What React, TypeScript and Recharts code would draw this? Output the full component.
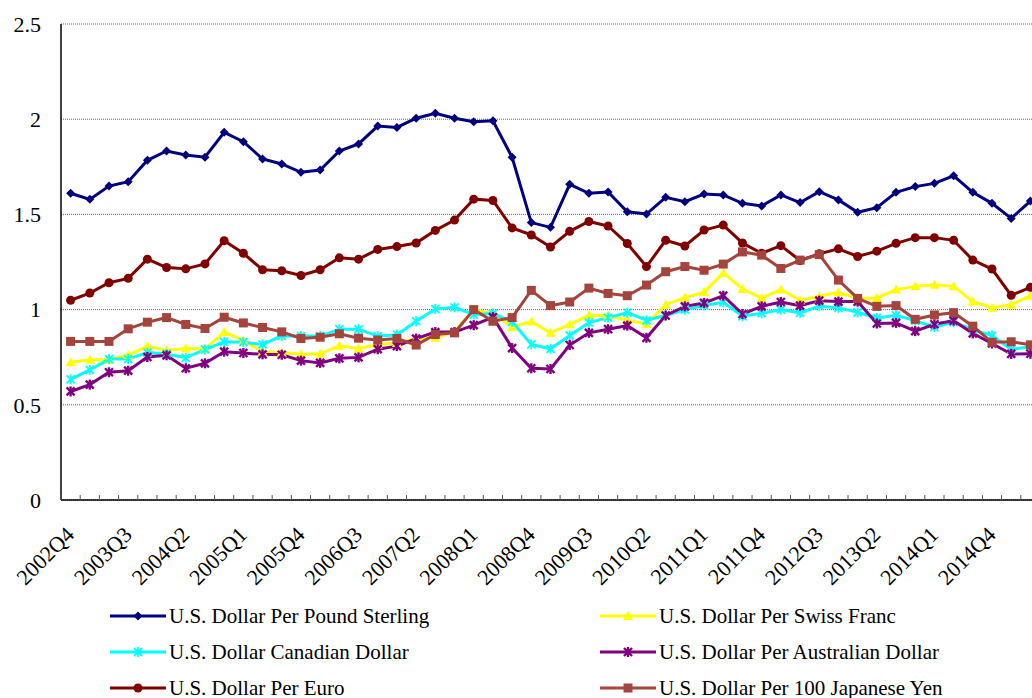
import { LineChart, Line, XAxis, YAxis, CartesianGrid } from "recharts";

const quarters = [
    "2002Q4",
    "2003Q1", "2003Q2", "2003Q3", "2003Q4",
    "2004Q1", "2004Q2", "2004Q3", "2004Q4",
    "2005Q1", "2005Q2", "2005Q3", "2005Q4",
    "2006Q1", "2006Q2", "2006Q3", "2006Q4",
    "2007Q1", "2007Q2", "2007Q3", "2007Q4",
    "2008Q1", "2008Q2", "2008Q3", "2008Q4",
    "2009Q1", "2009Q2", "2009Q3", "2009Q4",
    "2010Q1", "2010Q2", "2010Q3", "2010Q4",
    "2011Q1", "2011Q2", "2011Q3", "2011Q4",
    "2012Q1", "2012Q2", "2012Q3", "2012Q4",
    "2013Q1", "2013Q2", "2013Q3", "2013Q4",
    "2014Q1", "2014Q2", "2014Q3", "2014Q4",
    "2015Q1", "2015Q2",
];

const pound = [
    1.611, 1.579, 1.649, 1.672, 1.784, 1.833, 1.812, 1.8, 1.931, 1.882,
    1.791, 1.765, 1.721, 1.733, 1.833, 1.87, 1.964, 1.957, 2.005, 2.031,
    2.005, 1.987, 1.992, 1.8, 1.457, 1.432, 1.658, 1.611, 1.618, 1.514,
    1.502, 1.59, 1.567, 1.607, 1.602, 1.558, 1.544, 1.602, 1.562, 1.619,
    1.576, 1.511, 1.535, 1.616, 1.646, 1.663, 1.703, 1.616, 1.558, 1.479,
    1.57,
];
const swiss = [
    0.723, 0.737, 0.737, 0.761, 0.808, 0.786, 0.796, 0.793, 0.882, 0.838,
    0.779, 0.775, 0.765, 0.768, 0.81, 0.796, 0.817, 0.824, 0.848, 0.852,
    0.885, 1.0, 0.979, 0.909, 0.937, 0.878, 0.923, 0.97, 0.969, 0.944,
    0.925, 1.026, 1.063, 1.092, 1.193, 1.108, 1.061, 1.105, 1.049, 1.07,
    1.091, 1.058, 1.061, 1.105, 1.122, 1.131, 1.122, 1.042, 1.01, 1.026,
    1.073,
];
const canadian = [
    0.634, 0.683, 0.74, 0.74, 0.774, 0.767, 0.747, 0.791, 0.831, 0.829,
    0.817, 0.862, 0.861, 0.861, 0.897, 0.897, 0.861, 0.868, 0.939, 1.003,
    1.012, 0.974, 0.979, 0.936, 0.817, 0.794, 0.864, 0.932, 0.958, 0.984,
    0.944, 0.969, 1.0, 1.022, 1.038, 0.965, 0.981, 1.0, 0.983, 1.019,
    1.009, 0.986, 0.956, 0.97, 0.942, 0.908, 0.934, 0.895, 0.864, 0.791,
    0.805,
];
const australian = [
    0.57, 0.606, 0.671, 0.679, 0.751, 0.76, 0.692, 0.718, 0.779, 0.772,
    0.765, 0.763, 0.732, 0.72, 0.744, 0.749, 0.792, 0.808, 0.848, 0.882,
    0.882, 0.918, 0.96, 0.798, 0.692, 0.688, 0.814, 0.878, 0.897, 0.916,
    0.852, 0.969, 1.017, 1.035, 1.073, 0.977, 1.017, 1.04, 1.021, 1.047,
    1.042, 1.042, 0.927, 0.93, 0.887, 0.923, 0.942, 0.875, 0.822, 0.767,
    0.768,
];
const euro = [
    1.049, 1.087, 1.141, 1.164, 1.265, 1.221, 1.214, 1.24, 1.362, 1.296,
    1.209, 1.204, 1.179, 1.209, 1.272, 1.265, 1.316, 1.331, 1.35, 1.416,
    1.47, 1.58, 1.573, 1.429, 1.392, 1.329, 1.411, 1.463, 1.439, 1.347,
    1.226, 1.364, 1.334, 1.418, 1.444, 1.35, 1.296, 1.336, 1.258, 1.293,
    1.319, 1.279, 1.307, 1.348, 1.378, 1.378, 1.364, 1.26, 1.213, 1.075,
    1.117,
];
const yen = [
    0.833, 0.833, 0.833, 0.899, 0.934, 0.958, 0.922, 0.901, 0.96, 0.93,
    0.906, 0.883, 0.848, 0.855, 0.873, 0.85, 0.84, 0.848, 0.814, 0.869,
    0.878, 1.0, 0.939, 0.958, 1.101, 1.021, 1.04, 1.113, 1.085, 1.073,
    1.129, 1.199, 1.226, 1.207, 1.239, 1.303, 1.286, 1.216, 1.26, 1.289,
    1.155, 1.059, 1.017, 1.021, 0.949, 0.972, 0.984, 0.913, 0.828, 0.831,
    0.815,
];

const yTicks = [0, 0.5, 1, 1.5, 2, 2.5];
const labelEvery = 3;

const series = [
    { key: "pound", name: "U.S. Dollar Per Pound Sterling", color: "#000080", shape: "diamond", values: pound },
    { key: "swiss", name: "U.S. Dollar Per Swiss Franc", color: "#FFFF00", shape: "triangle", values: swiss },
    { key: "canadian", name: "U.S. Dollar Canadian Dollar", color: "#00FFFF", shape: "asterisk", values: canadian },
    { key: "australian", name: "U.S. Dollar Per Australian Dollar", color: "#800080", shape: "star", values: australian },
    { key: "euro", name: "U.S. Dollar Per Euro", color: "#800000", shape: "circle", values: euro },
    { key: "yen", name: "U.S. Dollar Per 100 Japanese Yen", color: "#A5443D", shape: "square", values: yen },
];

const data = quarters.map((q, i) => {
    const row: Record<string, number | string> = { idx: i, quarter: q };
    series.forEach((s) => {
        row[s.key] = s.values[i];
    });
    return row;
});

// tick marks sit between categories, labels on every third category
const xTicks: number[] = [];
for (let i = 0; i <= quarters.length; i++) xTicks.push(i - 0.5);
for (let i = 0; i < quarters.length; i += labelEvery) xTicks.push(i);
xTicks.sort((a, b) => a - b);

const FONT = "Liberation Serif, DejaVu Serif, serif";

function Marker({ cx, cy, shape, color }: { cx: number; cy: number; shape: string; color: string }) {
    if (cx == null || cy == null) return null;
    switch (shape) {
        case "diamond":
            return <polygon points={`${cx},${cy - 4.5} ${cx + 4.5},${cy} ${cx},${cy + 4.5} ${cx - 4.5},${cy}`} fill={color} />;
        case "triangle":
            return <polygon points={`${cx},${cy - 5} ${cx + 5},${cy + 4} ${cx - 5},${cy + 4}`} fill={color} />;
        case "square":
            return <rect x={cx - 4.5} y={cy - 4.5} width={9} height={9} fill={color} />;
        case "circle":
            return <circle cx={cx} cy={cy} r={4.5} fill={color} />;
        case "asterisk":
            return (
                <g stroke={color} strokeWidth={1.8}>
                    <line x1={cx - 4} y1={cy - 4} x2={cx + 4} y2={cy + 4} />
                    <line x1={cx - 4} y1={cy + 4} x2={cx + 4} y2={cy - 4} />
                    <line x1={cx} y1={cy - 5} x2={cx} y2={cy + 5} />
                </g>
            );
        case "star":
            return (
                <g stroke={color} strokeWidth={2.4}>
                    <line x1={cx - 4} y1={cy - 4} x2={cx + 4} y2={cy + 4} />
                    <line x1={cx - 4} y1={cy + 4} x2={cx + 4} y2={cy - 4} />
                    <line x1={cx} y1={cy - 5} x2={cx} y2={cy + 5} />
                </g>
            );
        default:
            return null;
    }
}

function QuarterTick({ x, y, payload }: any) {
    const v = payload.value;
    if (!Number.isInteger(v)) {
        return <line x1={x} x2={x} y1={y} y2={y - 5} stroke="#555" strokeWidth={1} />;
    }
    return (
        <text
            x={x + 5}
            y={y + 36}
            textAnchor="end"
            transform={`rotate(-45, ${x + 5}, ${y + 36})`}
            style={{ fontFamily: FONT }}
            fontSize={22}
            fill="#000"
        >
            {quarters[v]}
        </text>
    );
}

function LegendBlock() {
    return (
        <div
            style={{
                position: "absolute",
                left: 110,
                top: 598,
                display: "grid",
                gridTemplateColumns: "490px 400px",
                rowGap: 0,
                fontFamily: FONT,
                fontSize: 21,
                color: "#000",
            }}
        >
            {series.map((s) => (
                <div key={s.key} style={{ display: "flex", alignItems: "center", height: 36 }}>
                    <svg width={56} height={14} style={{ marginRight: 3 }}>
                        <line x1={0} y1={7} x2={56} y2={7} stroke={s.color} strokeWidth={3} />
                        <Marker cx={28} cy={7} shape={s.shape} color={s.color} />
                    </svg>
                    <span style={{ whiteSpace: "nowrap" }}>{s.name}</span>
                </div>
            ))}
        </div>
    );
}

export default function App() {
    return (
        <div
            style={{
                position: "fixed",
                left: 0,
                top: 0,
                width: 1032,
                height: 698,
                overflow: "hidden",
                background: "#fff",
                fontFamily: FONT,
            }}
        >
            <LineChart width={1060} height={698} data={data} margin={{ top: 24, right: 20, bottom: 110, left: 0 }}>
                <CartesianGrid vertical={false} stroke="#666" strokeDasharray="1 1" />
                <XAxis
                    dataKey="idx"
                    type="number"
                    domain={[-0.5, quarters.length - 0.5]}
                    ticks={xTicks}
                    interval={0}
                    tick={<QuarterTick />}
                    tickLine={false}
                    tickSize={0}
                    tickMargin={0}
                    height={88}
                    axisLine={{ stroke: "#000", strokeWidth: 1.5 }}
                />
                <YAxis
                    domain={[0, 2.5]}
                    ticks={yTicks}
                    width={61}
                    tickLine={false}
                    tickSize={0}
                    tickMargin={20}
                    axisLine={{ stroke: "#000", strokeWidth: 1.5 }}
                    tick={{ fontFamily: FONT, fontSize: 22, fill: "#000" }}
                />
                {series.map((s) => (
                    <Line
                        key={s.key}
                        dataKey={s.key}
                        name={s.name}
                        stroke={s.color}
                        strokeWidth={3}
                        isAnimationActive={false}
                        dot={(p: any) => (
                            <Marker key={`${s.key}-${p.index}`} cx={p.cx} cy={p.cy} shape={s.shape} color={s.color} />
                        )}
                        activeDot={false}
                    />
                ))}
            </LineChart>
            <LegendBlock />
        </div>
    );
}
